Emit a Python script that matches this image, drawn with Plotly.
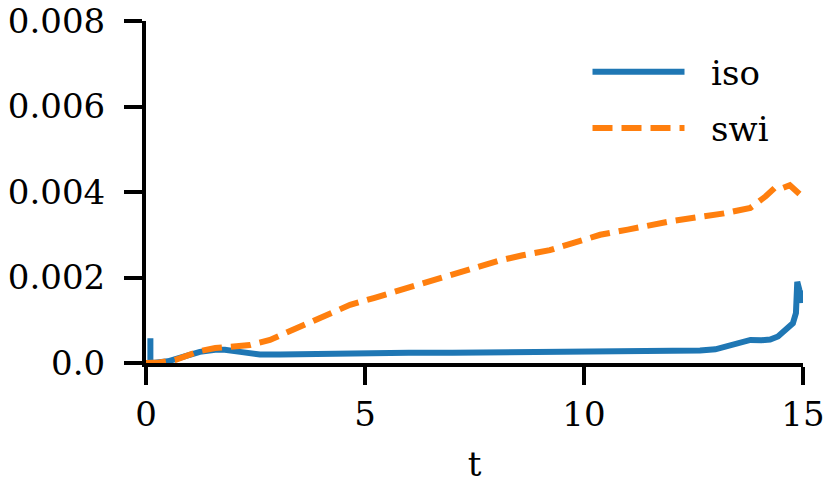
import plotly.graph_objects as go

# data
t_iso = [0.1, 0.1, 0.15, 0.5, 0.9, 1.23, 1.58, 1.8, 2.15, 2.6, 3.06, 4.0, 5.0,
         6.0, 7.0, 8.0, 9.0, 10.0, 11.0, 12.0, 12.65, 13.0, 13.33, 13.8,
         14.05, 14.25, 14.43, 14.6, 14.77, 14.84, 14.86, 14.87, 14.92,
         14.94, 14.95]
y_iso = [0.00058, 0.00003, 0.0, 0.00004, 0.00016, 0.00026, 0.00031,
         0.00031, 0.00026, 0.00020, 0.00020, 0.00022, 0.00024, 0.00024,
         0.00024, 0.00025, 0.00025, 0.00026, 0.00026, 0.00028, 0.00029,
         0.00032, 0.00042, 0.00054, 0.00053, 0.00055, 0.00062, 0.00076,
         0.00093, 0.00117, 0.0015, 0.0019, 0.0017, 0.00165, 0.0014]

t_swi = [0.0, 0.3, 0.66, 1.0, 1.23, 1.58, 2.0, 2.37, 2.83, 3.5, 4.0, 4.66,
         5.2, 5.8, 6.4, 6.94, 7.5, 8.08, 8.6, 9.22, 9.8, 10.37, 11.0, 11.5,
         12.0, 12.65, 13.2, 13.8, 13.95, 14.15, 14.36, 14.55, 14.7, 14.85,
         15.0]
y_swi = [0.0, 0.00001, 0.00007, 0.00018, 0.00028, 0.00035, 0.00038,
         0.00042, 0.00054, 0.00084, 0.00107, 0.00136, 0.00152, 0.0017,
         0.00188, 0.00206, 0.00222, 0.0024, 0.00252, 0.00264, 0.00282,
         0.0030, 0.00312, 0.00323, 0.00332, 0.00342, 0.00350, 0.00363,
         0.00374, 0.0039, 0.0041, 0.0041, 0.00416, 0.0040, 0.00388]

x_ticks = [0, 5, 10, 15]
y_ticks = [0.0, 0.002, 0.004, 0.006, 0.008]
y_tick_labels = ["0.0", "0.002", "0.004", "0.006", "0.008"]

FONT = "DejaVu Serif"
PAD = "\u00a0\u00a0"  # extra room between legend line and label

fig = go.Figure()
fig.add_trace(go.Scatter(x=t_iso, y=y_iso, mode="lines", name=PAD + "iso",
                         legendgroup="iso",
                         line=dict(color="#1f77b4", width=6)))
fig.add_trace(go.Scatter(x=t_swi, y=y_swi, mode="lines", name=PAD + "swi",
                         legendgroup="swi",
                         line=dict(color="#ff7f0e", width=6, dash="20px,9px")))

axis_style = dict(showline=True, linewidth=4, linecolor="black",
                  ticks="outside", ticklen=18, tickwidth=4, tickcolor="black",
                  showgrid=False, zeroline=False, automargin=False,
                  ticklabeloverflow="allow",
                  tickfont=dict(family=FONT, size=34, color="black"))

fig.update_layout(
    width=832, height=500,
    margin=dict(l=146, r=29, t=21, b=137),
    plot_bgcolor="white", paper_bgcolor="white",
    font=dict(family=FONT, size=34, color="black"),
    xaxis=dict(range=[0, 15.001], tickvals=x_ticks,
               title=dict(text="t", font=dict(family=FONT, size=34), standoff=20),
               **axis_style),
    yaxis=dict(range=[0, 0.0080005], tickvals=y_ticks, ticktext=y_tick_labels,
               ticklabelstandoff=12, **axis_style),
    legend=dict(x=0.672, y=0.935, xanchor="left", yanchor="top",
                bgcolor="rgba(0,0,0,0)", itemwidth=92,
                font=dict(family=FONT, size=34), tracegroupgap=9),
    showlegend=True,
)

# drop the default body margin so the figure sits at the page corner
fig.write_html("out.html", config={"displayModeBar": False},
               post_script="document.body.style.margin='0';")
